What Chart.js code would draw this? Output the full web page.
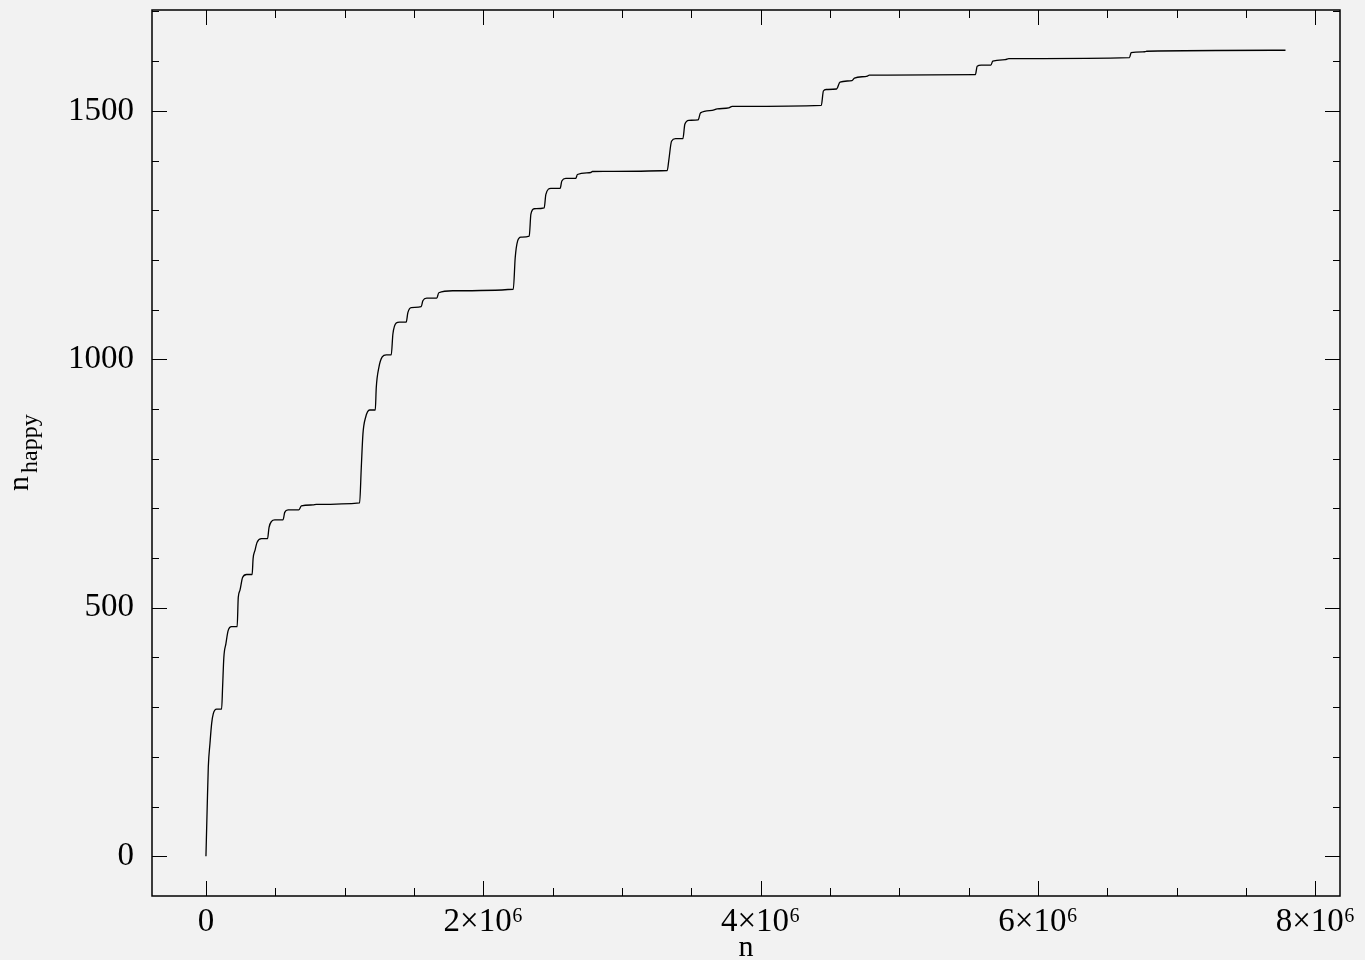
<!DOCTYPE html>
<html>
<head>
<meta charset="utf-8">
<script src="https://cdn.jsdelivr.net/npm/chart.js@4/dist/chart.umd.min.js"></script>
<style>
    body{ margin:0; background:#f2f2f2; }
    #wrap{ width:1365px; height:960px; position:relative; }
</style>
</head>
<body>
<div id="wrap"><canvas id="happy-chart"></canvas></div>
<script>
// cumulative count of happy numbers up to n
const nValues = [
    0, 9000, 17000, 29000, 41000, 53000, 77000, 113000, 120000, 129000,
    144000, 160000, 185000, 225000, 233000, 245000, 264000, 293000, 333000, 340000,
    353000, 369000, 401000, 444000, 455000, 473000, 496000, 556000, 568000, 592000,
    669000, 688000, 772000, 796000, 1108000, 1120000, 1132000, 1151000, 1180000, 1221000,
    1228000, 1247000, 1271000, 1300000, 1336000, 1348000, 1372000, 1396000, 1444000, 1456000,
    1480000, 1552000, 1564000, 1592000, 1664000, 1679000, 1779000, 2216000, 2230000, 2247000,
    2271000, 2331000, 2343000, 2367000, 2439000, 2451000, 2487000, 2554000, 2566000, 2595000,
    2667000, 2678000, 2775000, 2786000, 3326000, 3338000, 3357000, 3386000, 3439000, 3453000,
    3482000, 3549000, 3566000, 3650000, 3686000, 3770000, 3794000, 4437000, 4452000, 4472000,
    4547000, 4572000, 4658000, 4676000, 4770000, 4783000, 5548000, 5561000, 5590000, 5660000,
    5673000, 5763000, 5789000, 6659000, 6671000, 6770000, 6783000, 7784000
];
const happyCounts = [
    0, 99, 180, 227, 267, 287, 296, 296, 340, 400,
    428, 454, 462, 462, 521, 535, 561, 567, 567, 599,
    615, 632, 639, 639, 662, 674, 677, 677, 692, 697,
    697, 705, 707, 708, 711, 782, 850, 883, 898, 898,
    943, 984, 1005, 1009, 1009, 1051, 1073, 1075, 1075, 1094,
    1104, 1106, 1118, 1123, 1123, 1134, 1138, 1141, 1205, 1238,
    1246, 1248, 1292, 1303, 1305, 1332, 1344, 1344, 1359, 1364,
    1364, 1372, 1376, 1378, 1380, 1402, 1439, 1444, 1444, 1473,
    1481, 1482, 1496, 1501, 1504, 1506, 1509, 1511, 1540, 1543,
    1544, 1558, 1561, 1566, 1570, 1572, 1573, 1590, 1592, 1592,
    1600, 1603, 1605, 1607, 1617, 1619, 1620, 1622
];

const xTickValues = [0, 2000000, 4000000, 6000000, 8000000];
const yTickValues = [0, 500, 1000, 1500];
const xMinorStep = 500000;
const yMinorStep = 100;
const xTitle = 'n';
const yTitleMain = 'n';
const yTitleSub = 'happy';

const SERIF = '"Liberation Serif", "DejaVu Serif", serif';

function xLabel(v){
    if (v === 0) return '0';
    return (v / 1e6) + '×10⁶';
}

// frame, inward ticks on all four sides, axis titles
const framePlugin = {
    id: 'frame',
    afterDraw(chart){
        const ctx = chart.ctx;
        const a = chart.chartArea;
        const xs = chart.scales.x, ys = chart.scales.y;
        ctx.save();
        ctx.strokeStyle = '#000';
        ctx.lineWidth = 1.5;
        ctx.strokeRect(a.left, a.top, a.right - a.left, a.bottom - a.top);

        ctx.lineWidth = 1;
        ctx.beginPath();
        const tick = (x1, y1, x2, y2) => { ctx.moveTo(x1, y1); ctx.lineTo(x2, y2); };
        for (let v = Math.ceil(xs.min / xMinorStep) * xMinorStep; v <= xs.max; v += xMinorStep){
            const px = Math.round(xs.getPixelForValue(v)) + 0.5;
            const len = xTickValues.includes(v) ? 15 : 8;
            tick(px, a.bottom, px, a.bottom - len);
            tick(px, a.top, px, a.top + len);
        }
        for (let v = Math.ceil(ys.min / yMinorStep) * yMinorStep; v <= ys.max; v += yMinorStep){
            const py = Math.round(ys.getPixelForValue(v)) + 0.5;
            const len = yTickValues.includes(v) ? 15 : 7;
            tick(a.left, py, a.left + len, py);
            tick(a.right, py, a.right - len, py);
        }
        ctx.stroke();

        ctx.fillStyle = '#000';
        ctx.font = '30px ' + SERIF;
        ctx.textAlign = 'center';
        ctx.textBaseline = 'alphabetic';
        ctx.fillText(xTitle, (a.left + a.right) / 2, 956);

        ctx.translate(28, 491);
        ctx.rotate(-Math.PI / 2);
        ctx.textAlign = 'left';
        ctx.fillText(yTitleMain, 0, 0);
        const w = ctx.measureText(yTitleMain).width;
        ctx.font = '24px ' + SERIF;
        ctx.fillText(yTitleSub, w + 3, 9);
        ctx.restore();
    }
};

const chart = new Chart(document.getElementById('happy-chart').getContext('2d'), {
    type: 'line',
    data: {
        datasets: [{
            label: 'n_happy',
            data: nValues.map((n, i) => ({ x: n, y: happyCounts[i] })),
            borderColor: '#000',
            borderWidth: 1.3,
            pointRadius: 0,
            fill: false,
            cubicInterpolationMode: 'monotone'
        }]
    },
    options: {
        responsive: true,
        maintainAspectRatio: false,
        animation: false,
        layout: { padding: { left: 0, top: 10, right: 25, bottom: 0 } },
        plugins: { legend: { display: false }, tooltip: { enabled: false } },
        scales: {
            x: {
                type: 'linear',
                min: -389000,
                max: 8177000,
                grid: { display: false, drawTicks: false },
                border: { display: false },
                afterBuildTicks: s => { s.ticks = xTickValues.map(v => ({ value: v })); },
                afterFit: s => { s.height = 64; s.paddingLeft = 0; s.paddingRight = 0; },
                ticks: {
                    padding: 7,
                    maxRotation: 0,
                    color: '#000',
                    font: { family: SERIF, size: 33 },
                    callback: v => xLabel(v)
                }
            },
            y: {
                type: 'linear',
                min: -80,
                max: 1703,
                grid: { display: false, drawTicks: false },
                border: { display: false },
                afterBuildTicks: s => { s.ticks = yTickValues.map(v => ({ value: v })); },
                afterFit: s => { s.width = 152; s.paddingTop = 0; s.paddingBottom = 0; },
                ticks: {
                    padding: 18,
                    color: '#000',
                    font: { family: SERIF, size: 33 },
                    callback: v => String(v)
                }
            }
        }
    },
    plugins: [framePlugin]
});
</script>
</body>
</html>
